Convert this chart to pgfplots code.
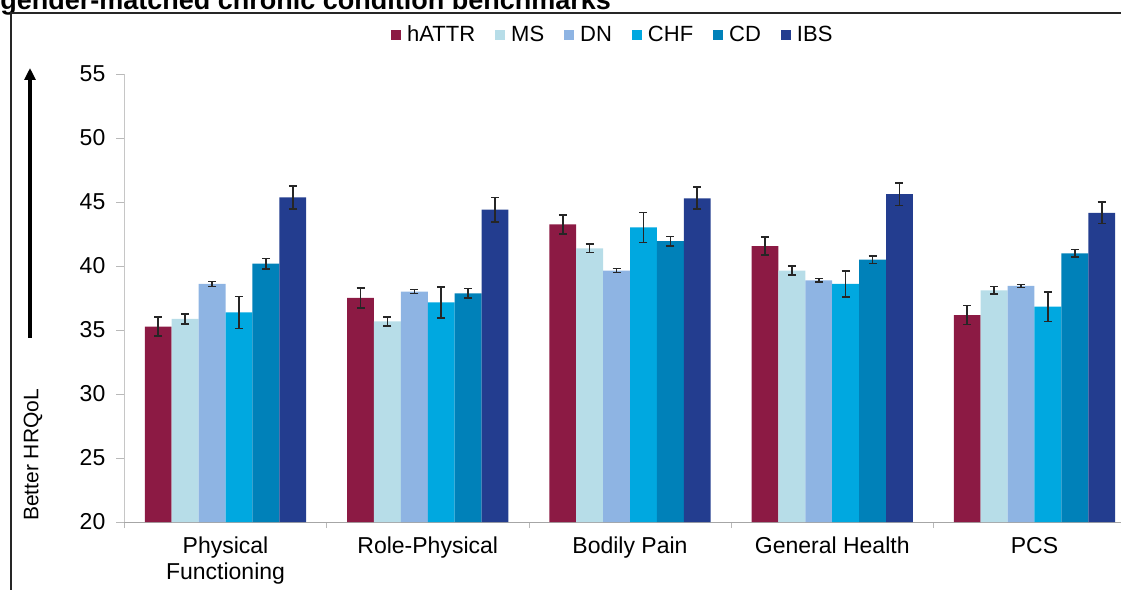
\documentclass[border=0pt]{standalone}
\usepackage{pgfplots}
\pgfplotsset{compat=1.18}
\usepackage{fontspec}
\setmainfont{Liberation Sans}
\usetikzlibrary{arrows.meta}
\definecolor{cA}{HTML}{8C1A44}
\definecolor{cB}{HTML}{B7DDE8}
\definecolor{cC}{HTML}{8EB4E3}
\definecolor{cD}{HTML}{00A8E0}
\definecolor{cE}{HTML}{0081B9}
\definecolor{cF}{HTML}{233D8F}
\begin{document}
\begin{tikzpicture}
\useasboundingbox (0,0) rectangle (560.5pt,295pt);
\clip (0,0) rectangle (560.5pt,295pt);
\node[anchor=base west, font=\bfseries\fontsize{13.5}{16}\selectfont, inner sep=0] at (0pt,290pt) {gender-matched chronic condition benchmarks};
\draw[line width=1pt, black!85] (5.5pt,-10pt) -- (5.5pt,288.5pt) -- (580pt,288.5pt);
\node[rotate=90, font=\fontsize{10.5}{13}\selectfont] at (16.5pt,67.5pt) {Better HRQoL};
\draw[line width=2pt, -{Triangle[length=6pt,width=5.5pt]}] (15pt,126pt) -- (15pt,261pt);
\begin{axis}[
  at={(62.2pt,34pt)}, anchor=south west,
  scale only axis, width=505.6pt, height=224pt,
  xmin=-0.5, xmax=4.5, ymin=20, ymax=55,
  ybar=0pt, bar width=13.45pt,
  axis x line*=bottom, axis y line*=left,
  x axis line style={draw=gray!70},
  y axis line style={draw=gray!45},
  ytick={20,25,...,55},
  tick align=outside, major tick length=4pt, minor tick length=3pt,
  y tick style={gray!55},
  xtick={0,1,2,3,4},
  xticklabels={{Physical\\Functioning},Role-Physical,Bodily Pain,General Health,PCS},
  major x tick style={draw=none},
  minor xtick={-0.5,0.5,1.5,2.5,3.5,4.5},
  minor x tick style={gray!55},
  /pgf/number format/assume math mode=true,
  yticklabel style={font=\fontsize{11.5}{13}\selectfont, xshift=-2pt},
  xticklabel style={font=\fontsize{11.5}{13}\selectfont, align=center, anchor=north},
  legend style={at={(0.484,1.087)}, anchor=center, draw=none, fill=none,
    font=\fontsize{11}{13}\selectfont, legend columns=6,
    /tikz/every odd column/.append style={column sep=1pt},
    /tikz/every even column/.append style={column sep=8pt}},
  legend image code/.code={\path[#1,draw=none] (0pt,-2.5pt) rectangle (5pt,2.5pt);},
  error bars/error bar style={line width=0.8pt, black!85},
  error bars/error mark options={rotate=90, mark size=2pt, line width=0.8pt, black!85},
]
\addplot[fill=cA, draw=none, error bars/.cd, y dir=both, y explicit] coordinates {
 (0,35.26) +- (0,0.75) (1,37.5) +- (0,0.8) (2,43.25) +- (0,0.74) (3,41.56) +- (0,0.69) (4,36.17) +- (0,0.73)};
\addplot[fill=cB, draw=none, error bars/.cd, y dir=both, y explicit] coordinates {
 (0,35.86) +- (0,0.38) (1,35.68) +- (0,0.35) (2,41.38) +- (0,0.32) (3,39.64) +- (0,0.35) (4,38.1) +- (0,0.3)};
\addplot[fill=cC, draw=none, error bars/.cd, y dir=both, y explicit] coordinates {
 (0,38.6) +- (0,0.2) (1,38.0) +- (0,0.15) (2,39.64) +- (0,0.15) (3,38.88) +- (0,0.15) (4,38.44) +- (0,0.13)};
\addplot[fill=cD, draw=none, error bars/.cd, y dir=both, y explicit] coordinates {
 (0,36.38) +- (0,1.25) (1,37.16) +- (0,1.2) (2,43.02) +- (0,1.17) (3,38.6) +- (0,1.03) (4,36.82) +- (0,1.16)};
\addplot[fill=cE, draw=none, error bars/.cd, y dir=both, y explicit] coordinates {
 (0,40.18) +- (0,0.4) (1,37.87) +- (0,0.38) (2,41.95) +- (0,0.37) (3,40.5) +- (0,0.3) (4,40.98) +- (0,0.3)};
\addplot[fill=cF, draw=none, error bars/.cd, y dir=both, y explicit] coordinates {
 (0,45.37) +- (0,0.9) (1,44.4) +- (0,0.94) (2,45.29) +- (0,0.86) (3,45.62) +- (0,0.88) (4,44.16) +- (0,0.85)};
\legend{hATTR,MS,DN,CHF,CD,IBS}
\end{axis}
\end{tikzpicture}
\end{document}
